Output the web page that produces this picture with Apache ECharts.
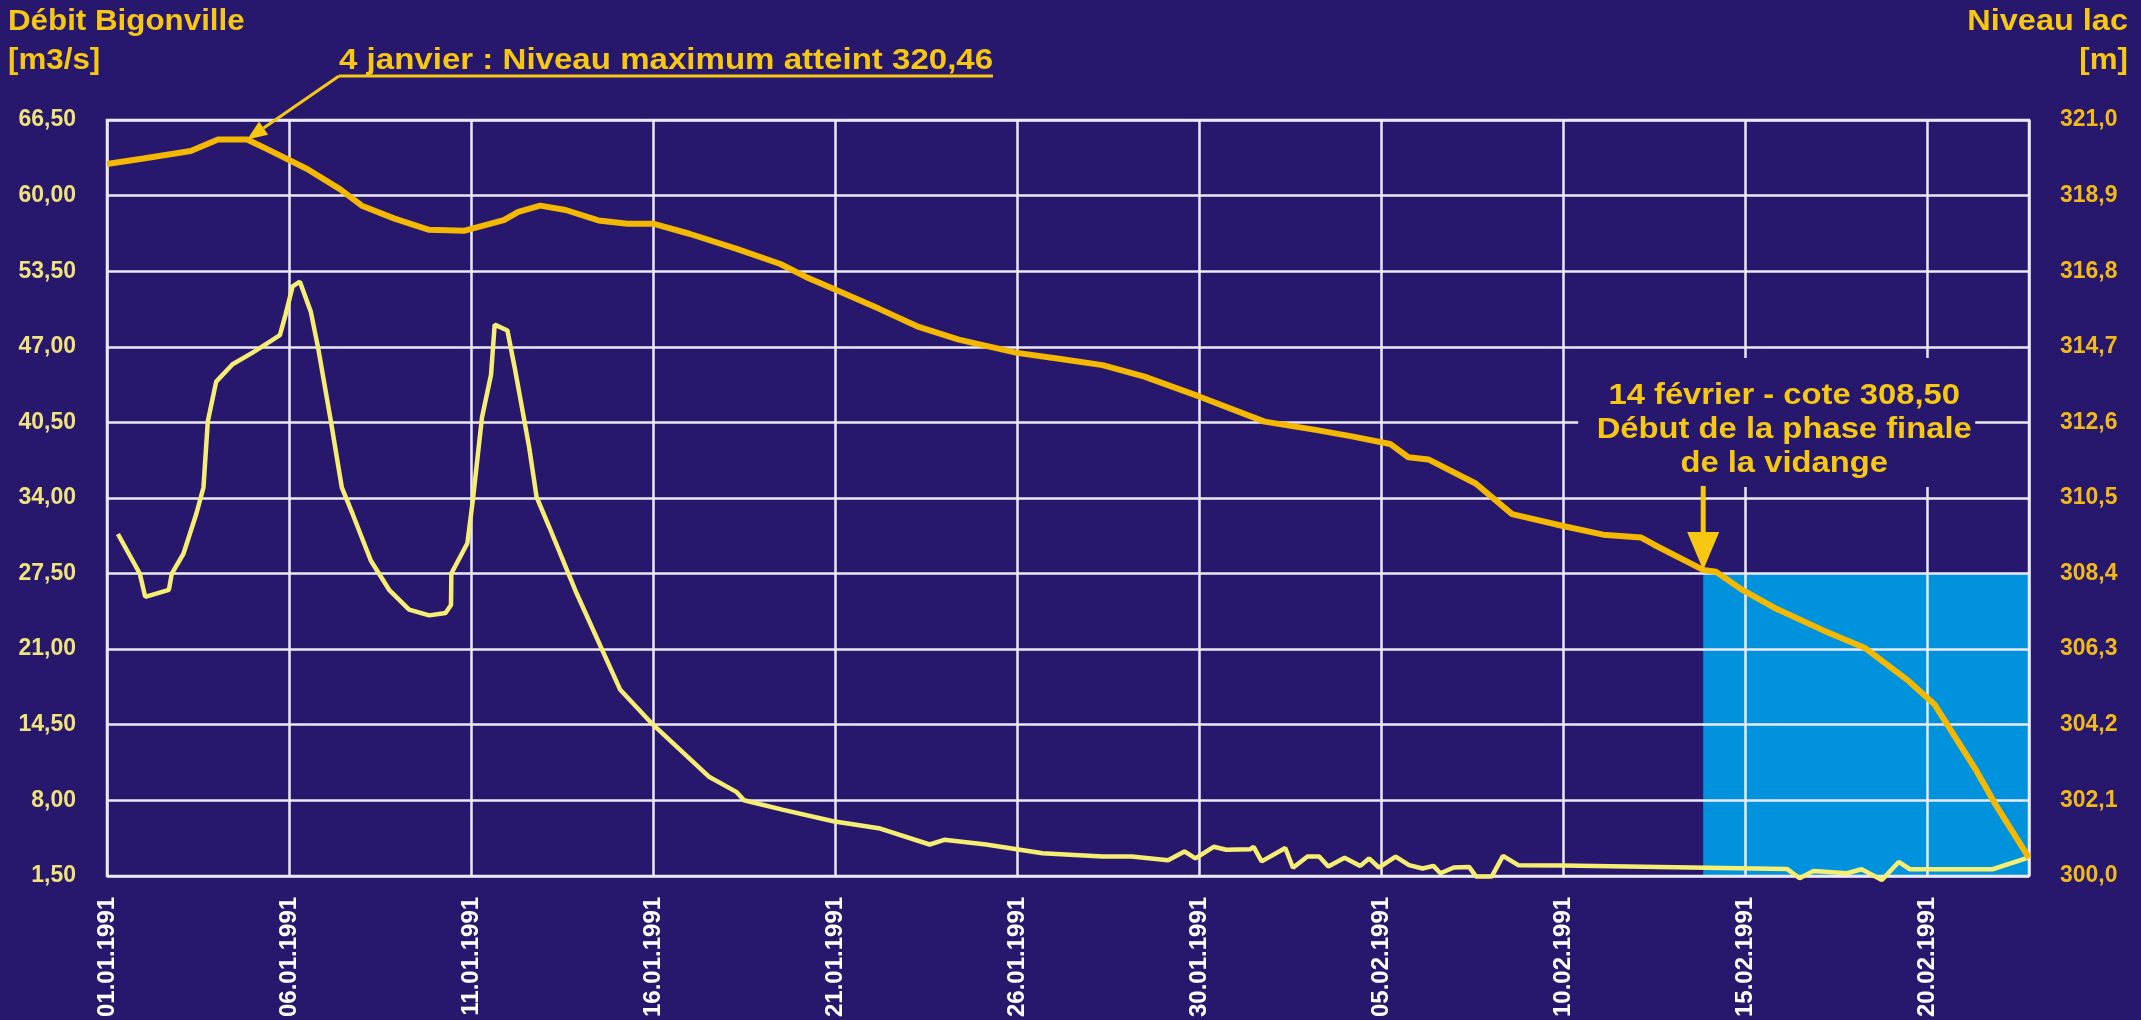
<!DOCTYPE html>
<html>
<head>
<meta charset="utf-8">
<title>Débit Bigonville - Niveau lac</title>
<script src="https://cdn.jsdelivr.net/npm/echarts@6/dist/echarts.min.js"></script>
<style>
html, body { margin: 0; padding: 0; background: #28186d; }
#chart { width: 2141px; height: 1020px; }
</style>
</head>
<body>
<div id="chart"></div>
<script>
//	x = jours depuis le 01.01.1991 (un libellé tous les 5 jours)
var dateLabels = ['01.01.1991', '06.01.1991', '11.01.1991', '16.01.1991', '21.01.1991', '26.01.1991',
	'30.01.1991', '05.02.1991', '10.02.1991', '15.02.1991', '20.02.1991'];

//	niveau du lac [m]
var lakeDays = [0, 1.0, 2.3, 3.05, 3.85, 4.4, 5.5, 6.4, 7.0, 7.9, 8.85, 9.8, 10.9, 11.3, 11.9, 12.6, 13.5, 14.3,
	15.0, 16.0, 17.3, 18.5, 19.2, 20.0, 21.2, 22.3, 23.4, 25.0, 26.2, 27.35, 28.5, 30.0, 31.8, 33.2, 34.2,
	35.25, 35.75, 36.3, 37.6, 38.6, 40.0, 41.1, 42.15, 42.5, 43.85, 44.2, 44.9, 45.8, 47.15, 48.3, 49.5,
	50.2, 51.35, 51.9, 52.8];
var lakeLevel = [319.78, 319.93, 320.14, 320.46, 320.46, 320.19, 319.64, 319.08, 318.62, 318.26, 317.95, 317.92,
	318.22, 318.45, 318.62, 318.5, 318.21, 318.12, 318.12, 317.84, 317.42, 317.0, 316.64, 316.29, 315.76,
	315.25, 314.9, 314.53, 314.36, 314.19, 313.87, 313.32, 312.62, 312.39, 312.21, 312.0, 311.63, 311.57,
	310.9, 310.05, 309.72, 309.48, 309.4, 309.2, 308.5, 308.45, 307.96, 307.45, 306.82, 306.33, 305.41,
	304.77, 302.93, 301.95, 300.5];

//	débit à Bigonville [m3/s]
var flowDays = [0.3, 0.9, 1.05, 1.7, 1.78, 2.1, 2.45, 2.65, 2.77, 3.0, 3.45, 4.0, 4.4, 4.75, 4.9, 5.1, 5.3, 5.6,
	5.8, 6.15, 6.45, 6.75, 7.25, 7.75, 8.3, 8.85, 9.3, 9.45, 9.46, 9.9, 10.05, 10.3, 10.55, 10.65, 11.0,
	11.2, 11.45, 11.6, 11.8, 12.15, 12.9, 14.1, 15.0, 16.55, 17.3, 17.5, 18.55, 19.95, 21.2, 22.6, 23.0,
	24.15, 25.7, 27.35, 28.15, 29.15, 29.6, 29.9, 30.4, 30.75, 31.4, 31.5, 31.72, 32.37, 32.58, 32.98,
	33.3, 33.55, 34.0, 34.43, 34.67, 34.94, 35.4, 35.77, 36.14, 36.44, 36.63, 37.0, 37.42, 37.61, 38.04,
	38.35, 38.77, 40.0, 46.15, 46.5, 46.88, 47.8, 48.2, 48.76, 49.22, 49.53, 51.8, 52.8];
var flowRate = [30.9, 27.5, 25.5, 26.1, 27.5, 29.2, 32.6, 34.9, 40.6, 44.0, 45.5, 46.5, 47.3, 48.0, 49.7, 52.2,
	52.6, 50.0, 46.9, 40.6, 34.9, 32.6, 28.6, 26.1, 24.4, 23.9, 24.1, 24.8, 27.5, 30.1, 33.8, 40.9, 44.6,
	48.9, 48.4, 45.2, 40.9, 38.3, 34.1, 31.5, 25.8, 17.5, 14.5, 10.0, 8.7, 8.0, 7.2, 6.2, 5.6, 4.2, 4.6,
	4.2, 3.45, 3.16, 3.16, 2.85, 3.6, 3.0, 4.0, 3.75, 3.78, 4.0, 2.75, 3.9, 2.2, 3.16, 3.16, 2.3, 3.05,
	2.36, 3.0, 2.22, 3.16, 2.42, 2.13, 2.36, 1.73, 2.22, 2.27, 1.44, 1.44, 3.22, 2.42, 2.4, 2.1, 1.3,
	1.93, 1.73, 2.07, 1.15, 2.7, 2.07, 2.07, 3.1];

//	annotations
var peakIdx = 4;		// 4 janvier : 320,46
var phaseIdx = 44;		// 14 février : 308,50
var phaseTopFlow = 27.5;

var bg = '#28186d',
	gridColor = '#eceaf7',
	lakeColor = '#f4b800',
	flowColor = '#f6ee72',
	textColor = '#f6c812',
	font = '"Liberation Sans", Arial, sans-serif';

//	narrow face for the rotated dates if there is one
function hasFont(name) {
	var c = document.createElement('canvas').getContext('2d');
	c.font = 'bold 40px monospace';
	var a = c.measureText('01.01.1991 abc').width;
	c.font = 'bold 40px "' + name + '", monospace';
	return c.measureText('01.01.1991 abc').width != a;
}
var narrow = hasFont('Liberation Sans Narrow');
var dateFont = narrow ? '"Liberation Sans Narrow", "Liberation Sans", sans-serif' : font;
var dateSize = narrow ? 28 : 24;

var lakeData = [], flowData = [];
for(var i=0; i<lakeDays.length; i++) lakeData.push([lakeDays[i], lakeLevel[i]]);
for(var i=0; i<flowDays.length; i++) flowData.push([flowDays[i], flowRate[i]]);
var xMax = lakeDays[lakeDays.length - 1];

var myChart = echarts.init(document.getElementById('chart'));

var option = {
	backgroundColor: bg,
	animation: false,
	grid: {
		left: 107,
		right: 112,
		top: 120,
		bottom: 143,
		show: true,
		backgroundColor: 'transparent',
		borderColor: gridColor,
		borderWidth: 2.5
	},
	xAxis: {
		type: 'value',
		min: 0,
		max: xMax,
		interval: 5,
		axisLine: {show: false},
		axisTick: {show: false},
		splitLine: {show: true, lineStyle: {color: gridColor, width: 2.5}},
		axisLabel: {
			rotate: 90,
			margin: 21,
			color: '#ffffff',
			fontFamily: dateFont,
			fontWeight: 'bold',
			fontSize: dateSize,
			showMaxLabel: false,
			formatter: function(v) {
				var k = Math.round(v / 5);
				if(Math.abs(v - k * 5) > 1e-6) return '';
				return dateLabels[k] || '';
			}
		}
	},
	yAxis: [
		{
			type: 'value',
			min: 1.5,
			max: 66.5,
			interval: 6.5,
			axisLine: {show: false},
			axisTick: {show: false},
			splitLine: {show: true, lineStyle: {color: gridColor, width: 2.5}},
			axisLabel: {
				margin: 31,
				color: '#efe47c',
				fontFamily: font,
				fontWeight: 'bold',
				fontSize: 23,
				formatter: function(v) { return v.toFixed(2).replace('.', ','); }
			}
		},
		{
			type: 'value',
			min: 300,
			max: 321,
			interval: 2.1,
			position: 'right',
			axisLine: {show: false},
			axisTick: {show: false},
			splitLine: {show: false},
			axisLabel: {
				margin: 31,
				color: '#f2ba18',
				fontFamily: font,
				fontWeight: 'bold',
				fontSize: 23,
				formatter: function(v) { return v.toFixed(1).replace('.', ','); }
			}
		}
	],
	series: [
		{
			name: 'Débit Bigonville',
			type: 'line',
			yAxisIndex: 0,
			data: flowData,
			showSymbol: false,
			clip: false,
			z: 3,
			lineStyle: {color: flowColor, width: 4.5},
			markArea: {
				silent: true,
				z: -1,
				itemStyle: {color: '#0092dc'},
				data: [[{xAxis: lakeDays[phaseIdx], yAxis: phaseTopFlow}, {xAxis: xMax, yAxis: 1.5}]]
			}
		},
		{
			name: 'Niveau lac',
			type: 'line',
			yAxisIndex: 1,
			data: lakeData,
			showSymbol: false,
			clip: false,
			z: 4,
			lineStyle: {color: lakeColor, width: 6}
		}
	]
};
myChart.setOption(option);


//	annotations, placed from the data points
var peak = myChart.convertToPixel({xAxisIndex: 0, yAxisIndex: 1}, lakeData[peakIdx]);
var tip = myChart.convertToPixel({xAxisIndex: 0, yAxisIndex: 1}, lakeData[phaseIdx]);

function label(txt, x, y, align, sx) {
	return {
		type: 'text', x: x, y: y, scaleX: sx, z: 20,
		style: {
			text: txt, fill: textColor, font: 'bold 29px ' + font,
			align: align, textAlign: align, verticalAlign: 'middle', textVerticalAlign: 'middle',
			lineHeight: 34
		}
	};
}

var annStart = [339, 76];
var dx = peak[0] - annStart[0], dy = peak[1] - annStart[1];
var len = Math.sqrt(dx*dx + dy*dy), ux = dx/len, uy = dy/len;
var headL = 20, headW = 8;
var hb = [peak[0] - ux*headL, peak[1] - uy*headL];

myChart.setOption({
	graphic: [
		label('Débit Bigonville', 8, 22, 'left', 1.08),
		label('[m3/s]', 8, 61, 'left', 1.08),
		label('Niveau lac', 2128, 22, 'right', 1.12),
		label('[m]', 2128, 61, 'right', 1.08),

		label('4 janvier : Niveau maximum atteint 320,46', annStart[0], 61, 'left', 1.14),
		{type: 'line', z: 20, shape: {x1: annStart[0], y1: annStart[1], x2: 993, y2: annStart[1]},
			style: {stroke: textColor, lineWidth: 3}},
		{type: 'line', z: 20, shape: {x1: annStart[0], y1: annStart[1], x2: hb[0], y2: hb[1]},
			style: {stroke: textColor, lineWidth: 3}},
		{type: 'polygon', z: 20, shape: {points: [
			[peak[0], peak[1]],
			[hb[0] - uy*headW, hb[1] + ux*headW],
			[hb[0] + uy*headW, hb[1] - ux*headW]
		]}, style: {fill: textColor}},

		{type: 'rect', z: 15, shape: {x: tip[0] - 125, y: tip[1] - 212, width: 397, height: 129},
			style: {fill: bg}},
		label('14 février - cote 308,50\nDébut de la phase finale\nde la vidange', tip[0] + 81, tip[1] - 140, 'center', 1.13),
		{type: 'line', z: 20, shape: {x1: tip[0], y1: tip[1] - 84, x2: tip[0], y2: tip[1] - 36},
			style: {stroke: textColor, lineWidth: 5}},
		{type: 'polygon', z: 20, shape: {points: [
			[tip[0], tip[1]], [tip[0] - 16, tip[1] - 38], [tip[0] + 16, tip[1] - 38]
		]}, style: {fill: textColor}}
	]
});
</script>
</body>
</html>
